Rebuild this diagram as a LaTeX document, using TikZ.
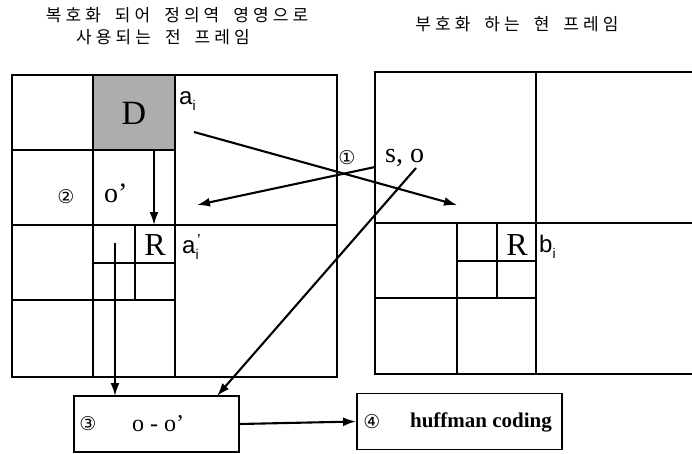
\documentclass[tikz,border=0pt]{standalone}
\usepackage{fontspec}
\setmainfont{Liberation Serif}
\newfontfamily\kr[LetterSpace=24]{Noto Sans CJK KR}
\newfontfamily\sym{DejaVu Sans}
\newfontfamily\arial{Liberation Sans}
\usetikzlibrary{arrows.meta}
\tikzset{
  grid/.style={line width=1.8pt, black},
  arr/.style={line width=2.1pt, -{Latex[length=13pt,width=9pt]}},
  boxnode/.style={draw, line width=1.9pt, minimum height=56pt, inner sep=0pt},
  title/.style={font=\kr\fontsize{17}{19}\selectfont, inner sep=0pt},
  big/.style={font=\fontsize{34}{36}\selectfont, inner sep=0pt},
  lab/.style={font=\arial\fontsize{24}{26}\selectfont, inner sep=0pt},
  ser/.style={font=\fontsize{28}{30}\selectfont, inner sep=0pt},
  circ/.style={font=\sym\fontsize{19}{21}\selectfont, inner sep=0pt}
}
\newcommand{\subi}{\raisebox{-6pt}{\fontsize{14}{14}\selectfont i}}
\begin{document}
\begin{tikzpicture}[x=1pt,y=-1pt]
\useasboundingbox (0,0) rectangle (692,454);
% titles
\node[title] (t1) at (177,15) {복호화\hspace{14pt}되어\hspace{14pt}정의역\hspace{14pt}영영으로};
\node[title] (t2) at (163,37) {사용되는\hspace{14pt}전\hspace{14pt}프레임};
\node[title] (t3) at (517,24) {부호화\hspace{14pt}하는\hspace{14pt}현\hspace{14pt}프레임};
% left frame
\fill[black!32] (93,75) rectangle (175,150);
\draw[grid] (12,75) rectangle (337,377);
\draw[grid] (93,75) -- (93,377);
\draw[grid] (175,75) -- (175,377);
\draw[grid] (12,150) -- (175,150);
\draw[grid] (12,225) -- (337,225);
\draw[grid] (12,300) -- (175,300);
\draw[grid] (93,263) -- (175,263);
\draw[grid] (135,225) -- (135,300);
% right frame
\draw[grid] (692,72) -- (375,72) -- (375,374) -- (692,374);
\draw[grid] (375,223) -- (692,223);
\draw[grid] (536,72) -- (536,374);
\draw[grid] (457,223) -- (457,374);
\draw[grid] (497,223) -- (497,298);
\draw[grid] (457,261) -- (536,261);
\draw[grid] (375,298) -- (536,298);
% labels
\node[big] (D) at (134,113) {D};
\node[lab, anchor=base west] (ai) at (179,105) {a\subi};
\node[circ] (c2) at (66,197) {②};
\node[ser, anchor=base west] (op) at (104,202) {o’};
\node[big, font=\fontsize{32}{34}\selectfont] (R1) at (155,245) {R};
\node[lab, anchor=base west] (aip) at (182,253) {a\subi};
\node[font=\arial\fontsize{16}{16}\selectfont, inner sep=0pt] (pr) at (199,240) {’};
\node[big, font=\fontsize{32}{34}\selectfont] (R2) at (517,245) {R};
\node[lab, anchor=base west] (bi) at (539,252) {b\subi};
\node[circ] (c1) at (347,158) {①};
\node[ser, anchor=base west] (so) at (385,163) {s, o};
% boxes
\node[boxnode, minimum width=165pt] (B3) at (156.5,424) {};
\node[circ] (c3) at (88,424) {③};
\node[font=\fontsize{24}{26}\selectfont, inner sep=0pt] (oo) at (158,424) {o - o’};
\node[boxnode, minimum width=205pt] (B4) at (459.5,421.5) {};
\node[circ] (c4) at (372,422) {④};
\node[font=\bfseries\fontsize{21}{23}\selectfont, inner sep=0pt] (hc) at (481,422) {huffman coding};
% arrow coordinates
\coordinate (a1s) at (194,132);
\coordinate (a1e) at (457,205);
\coordinate (a2s) at (375,167);
\coordinate (a2e) at (197,205);
\coordinate (a3s) at (416,168);
\coordinate (a3e) at (217,396);
\coordinate (a4s) at (154,150);
\coordinate (a4e) at (154,225);
\coordinate (a5s) at (115,243);
\coordinate (a5e) at (115,396);
\draw[arr] (a1s) -- (a1e);
\draw[arr] (a2s) -- (a2e);
\draw[arr] (a3s) -- (a3e);
\draw[arr] (a4s) -- (a4e);
\draw[arr] (a5s) -- (a5e);
\draw[arr] (B3.east) -- (B4.west);
\end{tikzpicture}
\end{document}
